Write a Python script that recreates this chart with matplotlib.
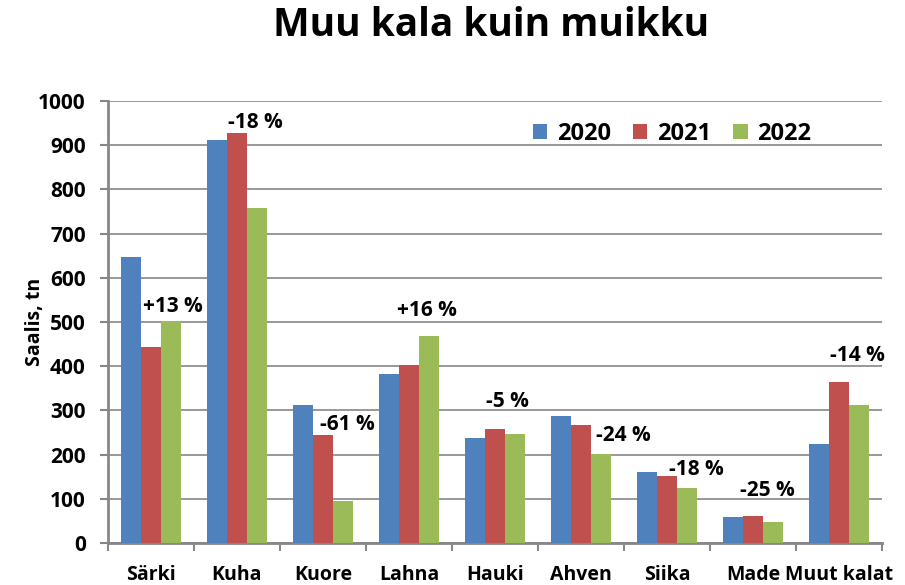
import matplotlib
matplotlib.use("Agg")
import matplotlib.pyplot as plt
import numpy as np

categories = ["Särki", "Kuha", "Kuore", "Lahna", "Hauki", "Ahven", "Siika", "Made", "Muut kalat"]
years = ["2020", "2021", "2022"]
v2020 = [647, 912, 312, 382, 238, 287, 161, 58, 223]
v2021 = [443, 928, 244, 403, 259, 266, 152, 62, 364]
v2022 = [502, 758, 95, 468, 246, 201, 124, 47, 312]
pct_labels = ["+13 %", "-18 %", "-61 %", "+16 %", "-5 %", "-24 %", "-18 %", "-25 %", "-14 %"]

# label placement (x offset in category units, y in data units)
lab_dx = [0.26, 0.21, 0.28, 0.21, 0.15, 0.49, 0.34, 0.17, 0.21]
lab_y = [534, 952, 269, 525, 319, 244, 167, 118, 425]

colors = ["#4F81BD", "#C0504D", "#9BBB59"]
plt.rcParams['font.family'] = ['Open Sans', 'DejaVu Sans']
plt.rcParams['font.weight'] = 'bold'

fig = plt.figure(figsize=(9.05, 5.85), dpi=100)
ax = fig.add_axes([0.1193, 0.0718, 0.8553, 0.7556])

x = np.arange(len(categories))
w = 0.233
for i, (vals, c, yr) in enumerate(zip([v2020, v2021, v2022], colors, years)):
    ax.bar(x + (i - 1) * w, vals, width=w, color=c, label=yr, zorder=3)

for xi, t, dx, yy in zip(x, pct_labels, lab_dx, lab_y):
    ax.text(xi + dx, yy, t, ha='center', va='center', fontsize=15, fontweight='bold', zorder=4)

ax.set_xlim(-0.5, len(categories) - 0.5)
ax.set_ylim(0, 1000)
ax.set_yticks(np.arange(0, 1001, 100))
ax.set_xticks(x)
ax.set_xticklabels(categories, fontsize=14, fontweight='bold')
ax.set_xticks(np.arange(-0.5, len(categories), 1), minor=True)
ax.tick_params(axis='x', which='major', length=0, pad=16)
ax.tick_params(axis='x', which='minor', length=6, color='#878787', width=1.5)
ax.tick_params(axis='y', length=6, color='#878787', width=1.5, labelsize=15, pad=10)
for lbl in ax.get_yticklabels():
    lbl.set_fontweight('bold')

ax.grid(axis='y', color='#868686', linewidth=1.2, zorder=0)
for s in ['top', 'right']:
    ax.spines[s].set_visible(False)
for s in ['left', 'bottom']:
    ax.spines[s].set_color('#878787')
    ax.spines[s].set_linewidth(2)

ax.set_ylabel("Saalis, tn", fontsize=14, fontweight='bold')
ax.yaxis.set_label_coords(-0.081, 0.5)

leg = ax.legend(loc='upper left', bbox_to_anchor=(0.522, 1.0), ncol=3, frameon=False,
                prop={'size': 17, 'weight': 'bold'}, handlelength=0.6, handleheight=0.6,
                columnspacing=0.95, handletextpad=0.4)

fig.text(0.543, 0.957, "Muu kala kuin muikku", ha='center', va='center', fontsize=28, fontweight='bold')

fig.savefig("out.png", dpi=100)
